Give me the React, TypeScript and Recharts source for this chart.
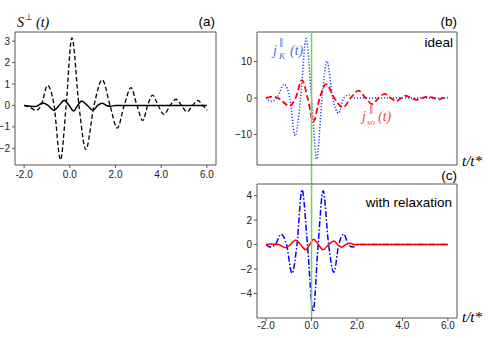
import React from 'react';
import { LineChart, Line, XAxis, YAxis, ReferenceLine } from 'recharts';

// ---------- tick labels ----------
const xTicks = [-2, 0, 2, 4, 6];
const xTickLabels = ['-2.0', '0.0', '2.0', '4.0', '6.0'];
const yTicksA = [-2, -1, 0, 1, 2, 3];
const yTicksB = [-10, 0, 10];
const yTicksC = [-4, -2, 0, 2, 4];

// ---------- panel (a): S_perp(t) ----------
const tA_dashed = [-2.0, -1.75, -1.48, -1.26, -0.97, -0.69, -0.41, -0.16, 0.09, 0.4, 0.7, 1.06, 1.42, 1.76, 2.08, 2.38, 2.68, 2.94, 3.19, 3.41, 3.62, 3.87, 4.12, 4.39, 4.65, 4.89, 5.13, 5.37, 5.6, 5.82, 6.02];
const vA_dashed = [0, -0.08, -0.23, 0, 0.93, 0, -2.54, 0, 3.16, 0, -2.06, 0, 1.2, 0, -1.06, 0, 0.83, 0, -0.7, 0, 0.48, 0, -0.42, 0, 0.29, 0, -0.3, 0, 0.24, 0, -0.22];

const tA_solid = [-2.0, -1.5, -1.2, -0.95, -0.7, -0.47, -0.24, -0.03, 0.17, 0.34, 0.52, 0.77, 1.02, 1.22, 1.42, 1.6, 1.78, 2.0, 6.0];
const vA_solid = [0, -0.05, 0.11, 0, -0.23, 0, 0.24, 0, -0.26, 0, 0.21, 0, -0.22, 0, 0.1, 0, -0.04, 0, 0];

// ---------- panel (b): ideal ----------
const tB_jK = [-2.0, -1.79, -1.5, -1.2, -0.96, -0.72, -0.48, -0.24, 0.0, 0.23, 0.46, 0.68, 0.93, 1.19, 1.42, 1.64, 1.85, 2.2, 6.0];
const vB_jK = [0, -1.0, 0.3, 3.75, 0, -10.4, 0, 16.3, 0, -16.8, 0, 10.1, 0, -4.2, 0, 0.8, 0, 0, 0];

const tB_jso = [-2.0, -1.7, -1.4, -0.98, -0.7, -0.42, -0.17, 0.08, 0.36, 0.64, 1.0, 1.38, 1.72, 2.07, 2.37, 2.67, 2.95, 3.22, 3.48, 3.74, 3.94, 4.13, 4.38, 4.62, 4.88, 5.14, 5.36, 5.58, 5.78, 5.98];
const vB_jso = [0, 0.4, -0.3, -2.2, 0, 4.9, 0, -6.5, 0, 3.8, 0, -2.6, 0, 2.0, 0, -1.7, 0, 1.1, 0, -0.9, 0, 0.6, 0, -0.5, 0, 0.4, 0, -0.5, 0, 0.3];

// ---------- panel (c): with relaxation ----------
const tC_jK = [-2.0, -1.85, -1.6, -1.34, -1.1, -0.86, -0.64, -0.42, -0.18, 0.07, 0.29, 0.51, 0.75, 0.98, 1.2, 1.42, 1.62, 1.82, 2.05, 6.0];
const vC_jK = [0, -0.2, 0, 0.85, 0, -2.35, 0, 4.48, 0, -5.5, 0, 4.4, 0, -2.27, 0, 0.85, 0, -0.2, 0, 0];

const tC_jso = [-2.0, -1.8, -1.45, -1.15, -0.93, -0.7, -0.48, -0.26, -0.08, 0.09, 0.3, 0.51, 0.75, 0.98, 1.15, 1.32, 1.5, 1.7, 1.9, 2.1, 6.0];
const vC_jso = [0, 0.05, 0, -0.25, 0, 0.38, 0, -0.43, 0, 0.43, 0, -0.43, 0, 0.3, 0, -0.22, 0, 0.1, 0, 0, 0];

const zip = (t: number[], v: number[]) => t.map((x, i) => ({ t: x, v: v[i] }));

const AX = '#555';
const SANS = '"Liberation Sans", Arial, sans-serif';
const SERIF = '"Liberation Serif", "Times New Roman", serif';
const tickStyle = { fontSize: 10, fill: '#222', fontFamily: SANS };
const fmtX = (v: number) => xTickLabels[xTicks.indexOf(v)] ?? String(v);
const fmtY = (v: number) => (v < 0 ? '\u2212' + Math.abs(v) : String(v));
const XDOM: [number, number] = [-2.4, 6.4];
const GREEN = '#6fd93f';

const frame = (ydom: [number, number]) => [
  <ReferenceLine key="ft" y={ydom[1]} stroke={AX} strokeWidth={1} ifOverflow="visible" />,
  <ReferenceLine key="fr" x={XDOM[1]} stroke={AX} strokeWidth={1} ifOverflow="visible" />,
];

export default function App() {
  const domA: [number, number] = [-2.78, 3.43];
  const domB: [number, number] = [-18.4, 18.1];
  const domC: [number, number] = [-6.0, 4.95];

  return (
    <div style={{ position: 'absolute', left: 0, top: 0, width: 491, height: 338, background: '#fff', overflow: 'hidden' }}>
      {/* panel (a) */}
      <div style={{ position: 'absolute', left: 0, top: 0 }}>
        <LineChart width={220} height={180} margin={{ top: 32, right: 4, bottom: 0, left: 0 }}>
          <XAxis dataKey="t" type="number" domain={XDOM} allowDataOverflow ticks={xTicks} tickFormatter={fmtX} height={15} tickSize={3} tickMargin={3} stroke={AX} tick={tickStyle} />
          <YAxis type="number" domain={domA} allowDataOverflow ticks={yTicksA} tickFormatter={fmtY} width={15} tickSize={3} tickMargin={2} stroke={AX} tick={tickStyle} />
          {frame(domA)}
          <Line data={zip(tA_dashed, vA_dashed)} dataKey="v" type="monotone" stroke="#000" strokeWidth={1.3} strokeDasharray="4.5 2.5" dot={false} isAnimationActive={false} />
          <Line data={zip(tA_solid, vA_solid)} dataKey="v" type="monotone" stroke="#000" strokeWidth={1.5} dot={false} isAnimationActive={false} />
        </LineChart>
      </div>

      {/* panel (b) */}
      <div style={{ position: 'absolute', left: 230, top: 0 }}>
        <LineChart width={230} height={186} margin={{ top: 32, right: 3, bottom: 0, left: 0 }}>
          <XAxis dataKey="t" type="number" domain={XDOM} allowDataOverflow ticks={xTicks} tick={false} height={21} tickSize={3} stroke={AX} />
          <YAxis type="number" domain={domB} allowDataOverflow ticks={yTicksB} tickFormatter={fmtY} width={27} tickSize={3} tickMargin={2} stroke={AX} tick={tickStyle} />
          {frame(domB)}
          <Line data={zip(tB_jK, vB_jK)} dataKey="v" type="monotone" stroke="#1f3dff" strokeWidth={1.5} strokeDasharray="1.2 1.8" dot={false} isAnimationActive={false} />
          <Line data={zip(tB_jso, vB_jso)} dataKey="v" type="monotone" stroke="#ff0000" strokeWidth={1.8} strokeDasharray="6 3" dot={false} isAnimationActive={false} />
          <ReferenceLine segment={[{ x: 0, y: 18.1 }, { x: 0, y: -25 }]} ifOverflow="visible" stroke={GREEN} strokeWidth={1.5} />
        </LineChart>
      </div>

      {/* panel (c) */}
      <div style={{ position: 'absolute', left: 230, top: 170 }}>
        <LineChart width={230} height={168} margin={{ top: 14, right: 3, bottom: 0, left: 0 }}>
          <XAxis dataKey="t" type="number" domain={XDOM} allowDataOverflow ticks={xTicks} tickFormatter={fmtX} height={20} tickSize={3} tickMargin={1} stroke={AX} tick={tickStyle} />
          <YAxis type="number" domain={domC} allowDataOverflow ticks={yTicksC} tickFormatter={fmtY} width={27} tickSize={3} tickMargin={2} stroke={AX} tick={tickStyle} />
          {frame(domC)}
          <Line data={zip(tC_jK, vC_jK)} dataKey="v" type="monotone" stroke="#0000ff" strokeWidth={1.5} strokeDasharray="6 2 1.5 2" dot={false} isAnimationActive={false} />
          <Line data={zip(tC_jso, vC_jso)} dataKey="v" type="monotone" stroke="#ff0000" strokeWidth={1.5} dot={false} isAnimationActive={false} />
          <ReferenceLine x={0} stroke={GREEN} strokeWidth={1.5} />
        </LineChart>
      </div>

      {/* labels */}
      <svg width={491} height={338} style={{ position: 'absolute', left: 0, top: 0, pointerEvents: 'none' }}>
        <text x={17} y={27} fontFamily={SERIF} fontStyle="italic" fontSize={14} fill="#000">S</text>
        <text x={25} y={20} fontFamily={SERIF} fontSize={9} fill="#000">⊥</text>
        <text x={36} y={27} fontFamily={SERIF} fontStyle="italic" fontSize={14} fill="#000">(t)</text>
        <text x={215} y={26} textAnchor="end" fontFamily={SANS} fontSize={13.5} fill="#000">(a)</text>
        <text x={457} y={26} textAnchor="end" fontFamily={SANS} fontSize={13.5} fill="#000">(b)</text>
        <text x={457} y={180} textAnchor="end" fontFamily={SANS} fontSize={13.5} fill="#000">(c)</text>
        <text x={453} y={47} textAnchor="end" fontFamily={SANS} fontSize={13.5} fill="#000">ideal</text>
        <text x={452} y={207} textAnchor="end" fontFamily={SANS} fontSize={13.5} fill="#000">with relaxation</text>
        <text x={462} y={166} fontFamily={SERIF} fontStyle="italic" fontSize={15} fill="#000">t/t*</text>
        <text x={462} y={322} fontFamily={SERIF} fontStyle="italic" fontSize={15} fill="#000">t/t*</text>
        {/* j_K label */}
        <text x={273} y={55} fontFamily={SERIF} fontStyle="italic" fontSize={14} fill="#4d6ef2">j</text>
        <text x={279} y={45} fontFamily={SERIF} fontSize={9} fill="#4d6ef2">∥</text>
        <text x={279} y={59} fontFamily={SERIF} fontStyle="italic" fontSize={9} fill="#4d6ef2">K</text>
        <text x={290} y={55} fontFamily={SERIF} fontStyle="italic" fontSize={14} fill="#4d6ef2">(t)</text>
        {/* j_so label */}
        <text x={362} y={121} fontFamily={SERIF} fontStyle="italic" fontSize={14} fill="#f04a4a">j</text>
        <text x={369} y={112} fontFamily={SERIF} fontSize={9} fill="#f04a4a">∥</text>
        <text x={367} y={125} fontFamily={SERIF} fontStyle="italic" fontSize={9} fill="#f04a4a">so</text>
        <text x={378} y={121} fontFamily={SERIF} fontStyle="italic" fontSize={14} fill="#f04a4a">(t)</text>
      </svg>
    </div>
  );
}
